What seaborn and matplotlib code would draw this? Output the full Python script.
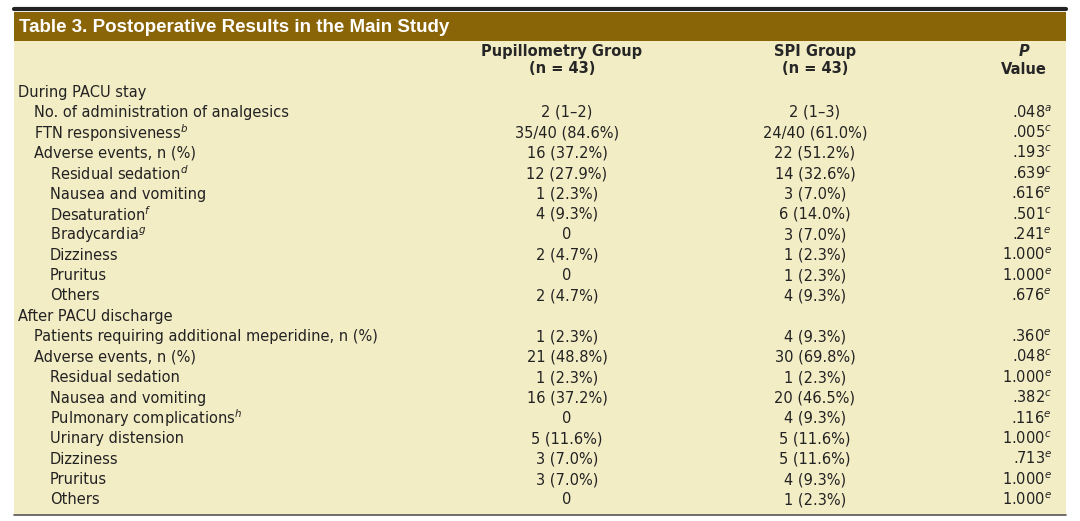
import matplotlib
matplotlib.use("Agg")
import matplotlib.pyplot as plt
import seaborn as sns

sns.set_style("white")

title = "Table 3. Postoperative Results in the Main Study"
col_headers = ["Pupillometry Group\n(n = 43)", "SPI Group\n(n = 43)"]
labels = ["During PACU stay", "No. of administration of analgesics", "FTN responsiveness$^{b}$",
          "Adverse events, n (%)", "Residual sedation$^{d}$", "Nausea and vomiting", "Desaturation$^{f}$",
          "Bradycardia$^{g}$", "Dizziness", "Pruritus", "Others", "After PACU discharge",
          "Patients requiring additional meperidine, n (%)", "Adverse events, n (%)", "Residual sedation",
          "Nausea and vomiting", "Pulmonary complications$^{h}$", "Urinary distension", "Dizziness",
          "Pruritus", "Others"]
levels = [0, 1, 1, 1, 2, 2, 2, 2, 2, 2, 2, 0, 1, 1, 2, 2, 2, 2, 2, 2, 2]
pupil = ["", "2 (1–2)", "35/40 (84.6%)", "16 (37.2%)", "12 (27.9%)", "1 (2.3%)", "4 (9.3%)", "0",
         "2 (4.7%)", "0", "2 (4.7%)", "", "1 (2.3%)", "21 (48.8%)", "1 (2.3%)", "16 (37.2%)", "0",
         "5 (11.6%)", "3 (7.0%)", "3 (7.0%)", "0"]
spi = ["", "2 (1–3)", "24/40 (61.0%)", "22 (51.2%)", "14 (32.6%)", "3 (7.0%)", "6 (14.0%)", "3 (7.0%)",
       "1 (2.3%)", "1 (2.3%)", "4 (9.3%)", "", "4 (9.3%)", "30 (69.8%)", "1 (2.3%)", "20 (46.5%)",
       "4 (9.3%)", "5 (11.6%)", "5 (11.6%)", "4 (9.3%)", "1 (2.3%)"]
pvals = ["", ".048$^{a}$", ".005$^{c}$", ".193$^{c}$", ".639$^{c}$", ".616$^{e}$", ".501$^{c}$",
         ".241$^{e}$", "1.000$^{e}$", "1.000$^{e}$", ".676$^{e}$", "", ".360$^{e}$", ".048$^{c}$",
         "1.000$^{e}$", ".382$^{c}$", ".116$^{e}$", "1.000$^{c}$", ".713$^{e}$", "1.000$^{e}$",
         "1.000$^{e}$"]

bg = "#F3EDC6"
brown = "#8A6508"
fig = plt.figure(figsize=(10.8, 5.21), dpi=100)
ax = fig.add_axes([0, 0, 1, 1])
ax.set_xlim(0, 1080)
ax.set_ylim(521, 0)
ax.axis("off")
ax.add_patch(plt.Rectangle((14, 12), 1052, 503, color=bg, lw=0))
ax.add_patch(plt.Rectangle((14, 12), 1052, 29, color=brown, lw=0))
ax.plot([14, 1066], [9, 9], color="#222222", lw=3)
ax.plot([14, 1066], [515, 515], color="#555555", lw=1.2)
ax.text(19, 27, title, color="white", fontsize=13.5, fontweight="bold", va="center",
        family="Liberation Sans")
fs = 10.5
for x, h in zip([562, 815], col_headers):
    ax.text(x, 60, h, ha="center", va="center", fontsize=fs, fontweight="bold",
            linespacing=1.15, family="DejaVu Sans")
ax.text(1024, 51, "P", ha="center", va="center", fontsize=fs, fontweight="bold",
        style="italic", family="DejaVu Sans")
ax.text(1024, 69, "Value", ha="center", va="center", fontsize=fs, fontweight="bold",
        family="DejaVu Sans")
indent = [18, 34, 50]
for i, (lab, lv, a, b, p) in enumerate(zip(labels, levels, pupil, spi, pvals)):
    y = 92 + i * 20.4
    ax.text(indent[lv], y, lab, va="center", fontsize=fs, color="#222222")
    ax.text(567, y, a, va="center", ha="center", fontsize=fs, color="#222222")
    ax.text(815, y, b, va="center", ha="center", fontsize=fs, color="#222222")
    ax.text(1052, y, p, va="center", ha="right", fontsize=fs, color="#222222")
fig.savefig("out.png", dpi=100, facecolor="white")
